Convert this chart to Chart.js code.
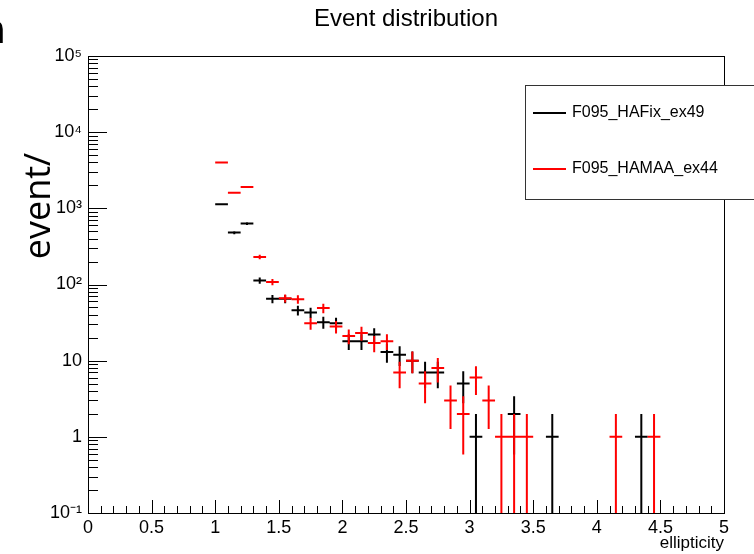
<!DOCTYPE html>
<html><head><meta charset="utf-8">
<script src="https://cdn.jsdelivr.net/npm/chart.js@4.4.0/dist/chart.umd.min.js"></script>
<style>html,body{margin:0;padding:0;background:#fff;}canvas{display:block;}</style>
</head><body>
<canvas id="c" width="754" height="554"></canvas>
<script>
// ---- data ----
const chartTitle = 'Event distribution';
const xAxisTitle = 'ellipticity';
const yAxisTitle = 'event/';
const binWidth = 0.1;
const binCenters = [1.05,1.15,1.25,1.35,1.45,1.55,1.65,1.75,1.85,1.95,
                    2.05,2.15,2.25,2.35,2.45,2.55,2.65,2.75,2.85,2.95,
                    3.05,3.15,3.25,3.35,3.45,3.55,3.65,3.75,3.85,3.95,
                    4.05,4.15,4.25,4.35,4.45];
const seriesNames = ['F095_HAFix_ex49', 'F095_HAMAA_ex44'];
const countsHAFix = [1130,480,630,113,65,65,46,43,32,31,
                     18,18,22,13,12,10,7,7,0,5,
                     1,0,0,2,0,0,1,0,0,0,
                     0,0,0,1,0];
const countsHAMAA = [4000,1600,1900,230,108,66,64,31,49,28,
                     21,23,17,18,7,10,5,8,3,2,
                     6,3,1,1,1,0,0,0,0,0,
                     0,1,0,0,1];
const xTickValues = [0,0.5,1,1.5,2,2.5,3,3.5,4,4.5,5];
const yTickLabels = {'-1':'10\u207B\u00B9','0':'1','1':'10','2':'10\u00B2','3':'10\u00B3','4':'10\u2074','5':'10\u2075'};
const xMin = 0, xMax = 5, yMin = 0.1, yMax = 100000;

const FONT = '"Liberation Sans", Arial, Helvetica, sans-serif';

function errorPoints(counts) {
  const pts = [];
  counts.forEach((n, i) => {
    if (n <= 0) return;
    const c = binCenters[i];
    const e = Math.sqrt(n);
    pts.push({x: c - binWidth / 2, y: n}, {x: c + binWidth / 2, y: n}, {x: c, y: null});
    pts.push({x: c, y: Math.max(n - e, yMin)}, {x: c, y: n + e}, {x: c, y: null});
  });
  return pts;
}

const rootDecor = {
  id: 'rootDecor',
  afterDraw(chart) {
    const ctx = chart.ctx, a = chart.chartArea;
    const xs = chart.scales.x, ys = chart.scales.y;
    ctx.save();
    ctx.strokeStyle = '#000';
    ctx.lineWidth = 1;
    // frame
    ctx.strokeRect(Math.round(a.left) + 0.5, Math.round(a.top) + 0.5, Math.round(a.right - a.left), Math.round(a.bottom - a.top));
    // x ticks (inward)
    ctx.beginPath();
    for (let i = 0; i <= 50; i++) {
      const px = Math.round(xs.getPixelForValue(i / 10)) + 0.5;
      const len = (i % 5 === 0) ? 13 : 7;
      ctx.moveTo(px, a.bottom);
      ctx.lineTo(px, a.bottom - len);
    }
    // y ticks (inward, log)
    for (let e = -1; e <= 5; e++) {
      for (let m = 1; m <= 9; m++) {
        const v = m * Math.pow(10, e);
        if (v > yMax * 1.0001) break;
        const py = Math.round(ys.getPixelForValue(v)) + 0.5;
        const len = (m === 1) ? 19 : 10;
        ctx.moveTo(a.left, py);
        ctx.lineTo(a.left + len, py);
      }
    }
    ctx.stroke();

    // legend box
    const lx = 525, ly = 85, lw = 260, lh = 114;
    ctx.fillStyle = '#fff';
    ctx.fillRect(lx, ly, lw, lh);
    ctx.strokeStyle = '#333';
    ctx.strokeRect(lx + 0.5, ly + 0.5, lw, lh);
    const rows = [113, 169];
    chart.data.datasets.forEach((ds, i) => {
      const y = rows[i];
      ctx.strokeStyle = ds.borderColor;
      ctx.lineWidth = 2;
      ctx.beginPath();
      ctx.moveTo(533, y); ctx.lineTo(566, y);
      ctx.stroke();
      ctx.fillStyle = '#000';
      ctx.font = '16px ' + FONT;
      ctx.textBaseline = 'middle';
      ctx.textAlign = 'left';
      ctx.fillText(ds.label, 572, y);
    });

    // y axis title (large, rotated)
    ctx.save();
    ctx.translate(40, 206);
    ctx.rotate(-Math.PI / 2);
    ctx.fillStyle = '#000';
    ctx.font = '36px "Open Sans", sans-serif';
    ctx.textAlign = 'center';
    ctx.textBaseline = 'middle';
    ctx.fillText(yAxisTitle, 0, 0);
    ctx.restore();

    // clipped glyph at the top-left corner
    ctx.fillStyle = '#000';
    ctx.font = '40px "Open Sans", sans-serif';
    ctx.textAlign = 'right';
    ctx.textBaseline = 'alphabetic';
    ctx.fillText('n', 6, 43);
    ctx.restore();
  }
};

new Chart(document.getElementById('c'), {
  type: 'scatter',
  data: {
    datasets: [
      {label: seriesNames[0], data: errorPoints(countsHAFix), borderColor: '#000000', backgroundColor: '#000000', order: 1},
      {label: seriesNames[1], data: errorPoints(countsHAMAA), borderColor: '#ff0000', backgroundColor: '#ff0000', order: 0}
    ].map(d => Object.assign(d, {showLine: true, spanGaps: false, pointRadius: 0, pointHoverRadius: 0, borderWidth: 2, borderCapStyle: 'butt', tension: 0}))
  },
  options: {
    responsive: false,
    animation: false,
    events: [],
    layout: {padding: {left: 0, right: 30, top: 0, bottom: 0}},
    plugins: {
      legend: {display: false},
      tooltip: {enabled: false},
      title: {
        display: true, text: chartTitle, fullSize: false, color: '#000',
        font: {family: FONT, size: 24, weight: 'normal', lineHeight: 1.2},
        padding: {top: 5, bottom: 22.2}
      }
    },
    scales: {
      x: {
        type: 'linear', min: xMin, max: xMax,
        afterBuildTicks: s => { s.ticks = xTickValues.map(v => ({value: v})); },
        afterFit: s => { s.height = 41; },
        grid: {display: false, drawTicks: false},
        border: {display: false},
        ticks: {color: '#000', font: {family: FONT, size: 18}, padding: 4, autoSkip: false, maxRotation: 0,
                callback: v => String(v)},
        title: {display: true, text: xAxisTitle, align: 'end', color: '#000',
                font: {family: FONT, size: 17}, padding: {top: 0, bottom: 0}}
      },
      y: {
        type: 'logarithmic', min: yMin, max: yMax,
        afterFit: s => { s.width = 88; },
        grid: {display: false, drawTicks: false},
        border: {display: false},
        ticks: {color: '#000', font: {family: FONT, size: 18}, padding: 6, autoSkip: false,
                callback: v => {
                  const e = Math.log10(v);
                  const r = Math.round(e);
                  return Math.abs(e - r) < 1e-9 ? (yTickLabels[String(r)] || '') : '';
                }}
      }
    }
  },
  plugins: [rootDecor]
});
</script>
</body></html>
